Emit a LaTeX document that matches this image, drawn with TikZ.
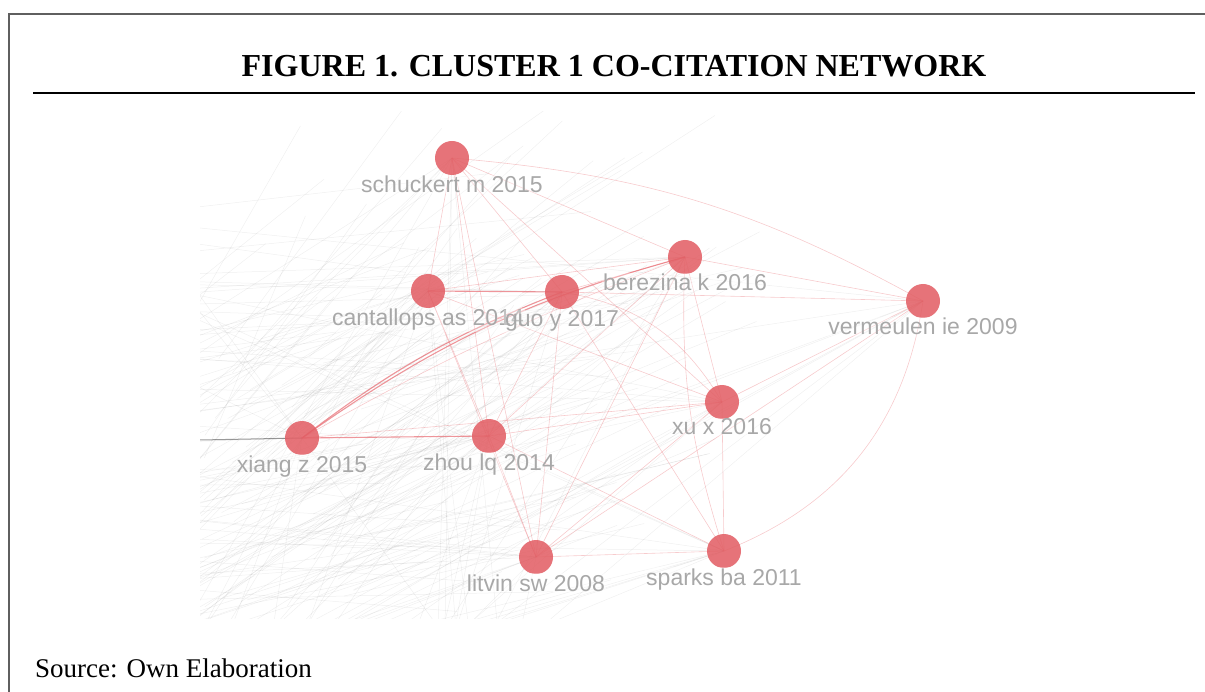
\documentclass[tikz,border=0pt]{standalone}
\usepackage{fontspec}
\setmainfont{Liberation Serif}
\newfontfamily\labelfont{Liberation Sans}
\usetikzlibrary{backgrounds}
\definecolor{nodered}{RGB}{226,96,102}
\definecolor{edgered}{RGB}{232,105,112}
\definecolor{labelgray}{RGB}{168,168,168}
\definecolor{framegray}{RGB}{95,95,95}
\tikzset{
  cite/.style={circle, fill=nodered, fill opacity=0.88, draw=none, minimum size=34pt, inner sep=0pt},
  citelabel/.style={anchor=base, font=\labelfont\fontsize{23}{23}\selectfont, text=labelgray, fill=white, fill opacity=0.3, text opacity=1, inner sep=1pt},
  redge/.style={draw=edgered, line width=0.6pt, opacity=0.35},
  sredge/.style={draw=edgered, line width=1.1pt, opacity=0.7},
  bgline/.style={draw=black, line width=0.5pt, opacity=0.06},
  frameline/.style={draw=framegray, line width=2pt},
}
\begin{document}
\begin{tikzpicture}[x=1pt,y=-1pt]
\useasboundingbox (0,0) rectangle (1205,692);
% frame
\coordinate (ftl) at (9,14);
\coordinate (ftr) at (1205,14);
\coordinate (fbl) at (9,692);
\draw[frameline] (fbl) -- (ftl) -- (ftr);
\node[font=\bfseries\fontsize{32}{32}\selectfont, anchor=base] (title) at (614,77) {FIGURE 1. CLUSTER 1 CO-CITATION NETWORK};
\coordinate (rl) at (33,93);
\coordinate (rr) at (1195,93);
\draw[line width=1.4pt] (rl) -- (rr);
\node[font=\fontsize{27}{27}\selectfont, anchor=base west, inner sep=0pt] (source) at (35,677) {Source: Own Elaboration};

% cluster nodes
\node[cite] (sch) at (452,158) {};
\node[cite] (can) at (428,291) {};
\node[cite] (guo) at (562,292) {};
\node[cite] (ber) at (685,257) {};
\node[cite] (ver) at (923,301) {};
\node[cite] (xu)  at (722,402) {};
\node[cite] (xia) at (302,438) {};
\node[cite] (zho) at (489,436) {};
\node[cite] (lit) at (536,557) {};
\node[cite] (spa) at (724,551) {};

\begin{scope}[on background layer]
  \clip (200,112) rectangle (1045,618);
  % faint background co-citation lines
  \pgfmathsetseed{4711}
  \foreach \i in {1,...,120}{
    \pgfmathsetmacro\xa{120+rnd*250}
    \pgfmathsetmacro\ya{330+rnd*330}
    \pgfmathsetmacro\xb{\xa+100+rnd*330}
    \pgfmathsetmacro\yb{\ya-40-rnd*220}
    \draw[bgline] (\xa,\ya) -- (\xb,\yb);
  }
  \foreach \i in {1,...,25}{
    \pgfmathsetmacro\xa{150+rnd*50}
    \pgfmathsetmacro\ya{180+rnd*430}
    \pgfmathsetmacro\xb{330+rnd*330}
    \pgfmathsetmacro\yb{\ya-60+rnd*120}
    \draw[bgline] (\xa,\ya) -- (\xb,\yb);
  }
  \foreach \n in {sch,can,guo,ber,ver,xu,xia,zho,lit,spa}{
    \foreach \k in {1,...,4}{
      \pgfmathsetmacro\xb{120+rnd*400}
      \pgfmathsetmacro\yb{640+rnd*40}
      \pgfmathsetmacro\xc{150}
      \pgfmathsetmacro\yc{220+rnd*420}
      \draw[bgline] (\n.center) -- (\xb,\yb);
      \draw[bgline] (\n.center) -- (\xc,\yc);
    }
  }
  \coordinate (xleft) at (200,440);
  \draw[draw=black, opacity=0.4, line width=1pt] (xleft) -- (xia.center);
  % red co-citation edges
  \foreach \a/\b in {sch/can,sch/guo,sch/ber,sch/zho,sch/lit,sch/xu,
                     can/ber,can/zho,can/lit,can/xu,
                     guo/ber,guo/ver,guo/zho,guo/spa,guo/lit,
                     ber/ver,ber/xu,ber/zho,ber/lit,
                     xia/xu,zho/lit,zho/xu,zho/spa,
                     lit/spa,lit/xu,lit/ver,xu/spa,xu/ver}{
    \draw[redge] (\a.center) -- (\b.center);
  }
  \draw[redge] (sch.center) to[bend left=12] (ver.center);
  \draw[redge] (guo.center) to[bend left=25] (xu.center);
  \draw[redge] (spa.center) to[bend right=30] (ver.center);
  \draw[redge] (ber.center) to[bend right=10] (spa.center);
  \draw[sredge] (can.center) -- (guo.center);
  \draw[sredge] (xia.center) -- (zho.center);
  \draw[sredge] (xia.center) to[bend left=10] (ber.center);
  \draw[sredge] (xia.center) to[bend left=8] (guo.center);
  \draw[redge] (xia.center) to[bend left=4] (ber.center);
\end{scope}

% labels
\node[citelabel] (sch-l) at (452,193) {schuckert m 2015};
\node[citelabel] (can-l) at (428,326) {cantallops as 2014};
\node[citelabel] (ber-l) at (685,291) {berezina k 2016};
\node[citelabel] (guo-l) at (562,327) {guo y 2017};
\node[citelabel] (ver-l) at (923,335) {vermeulen ie 2009};
\node[citelabel] (xu-l)  at (722,435) {xu x 2016};
\node[citelabel] (xia-l) at (302,472) {xiang z 2015};
\node[citelabel] (zho-l) at (489,470) {zhou lq 2014};
\node[citelabel] (lit-l) at (536,591) {litvin sw 2008};
\node[citelabel] (spa-l) at (724,585) {sparks ba 2011};
\end{tikzpicture}
\end{document}
